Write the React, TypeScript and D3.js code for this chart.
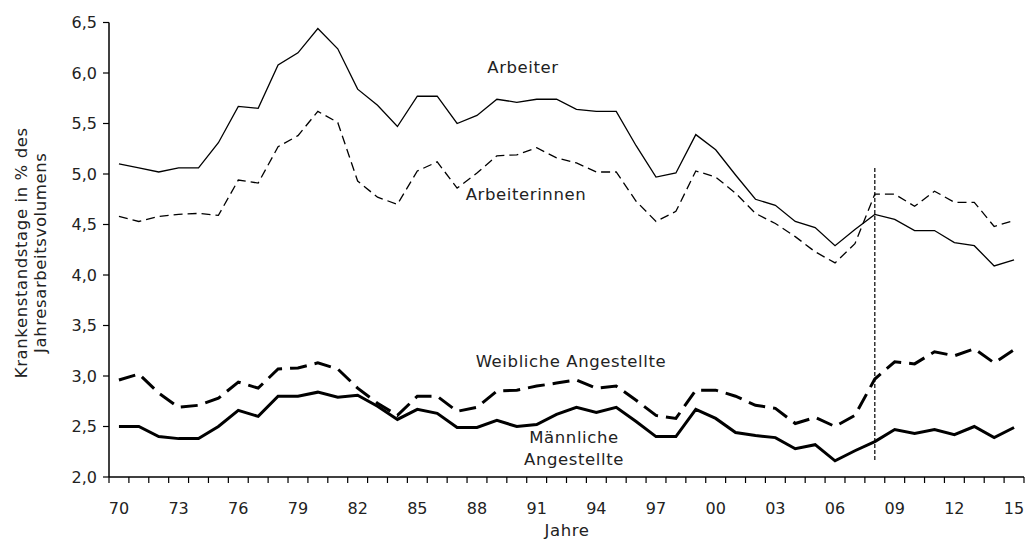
import React from "react";
import * as d3 from "d3";

const years: number[] = d3.range(1970, 2016);
const tickYears = [1970, 1973, 1976, 1979, 1982, 1985, 1988, 1991, 1994, 1997, 2000, 2003, 2006, 2009, 2012, 2015];
const yTicks = [2.0, 2.5, 3.0, 3.5, 4.0, 4.5, 5.0, 5.5, 6.0, 6.5];

const arbeiter = [5.10, 5.06, 5.02, 5.06, 5.06, 5.31, 5.67, 5.65, 6.08, 6.20,
  6.44, 6.24, 5.84, 5.68, 5.47, 5.77, 5.77, 5.50, 5.58, 5.74,
  5.71, 5.74, 5.74, 5.64, 5.62, 5.62, 5.28, 4.97, 5.01, 5.39,
  5.24, 4.99, 4.75, 4.69, 4.53, 4.47, 4.29, 4.45, 4.60, 4.55,
  4.44, 4.44, 4.32, 4.29, 4.09, 4.15];
const arbeiterinnen = [4.58, 4.53, 4.58, 4.60, 4.61, 4.59, 4.94, 4.91, 5.27, 5.38,
  5.62, 5.51, 4.93, 4.77, 4.70, 5.03, 5.12, 4.86, 5.01, 5.18,
  5.19, 5.26, 5.16, 5.11, 5.02, 5.02, 4.73, 4.53, 4.63, 5.03,
  4.97, 4.81, 4.61, 4.51, 4.38, 4.23, 4.12, 4.31, 4.80, 4.80,
  4.68, 4.83, 4.72, 4.72, 4.48, 4.54];
const weiblicheAngestellte = [2.96, 3.02, 2.83, 2.69, 2.71, 2.78, 2.94, 2.88, 3.07, 3.08,
  3.13, 3.07, 2.88, 2.73, 2.61, 2.80, 2.80, 2.65, 2.69, 2.85,
  2.86, 2.90, 2.93, 2.96, 2.88, 2.90, 2.76, 2.61, 2.58, 2.86,
  2.86, 2.80, 2.71, 2.68, 2.53, 2.59, 2.50, 2.61, 2.97, 3.14,
  3.12, 3.24, 3.20, 3.27, 3.13, 3.26];
const maennlicheAngestellte = [2.50, 2.50, 2.40, 2.38, 2.38, 2.50, 2.66, 2.60, 2.80, 2.80,
  2.84, 2.79, 2.81, 2.70, 2.57, 2.67, 2.63, 2.49, 2.49, 2.56,
  2.50, 2.52, 2.62, 2.69, 2.64, 2.69, 2.55, 2.40, 2.40, 2.67,
  2.58, 2.44, 2.41, 2.39, 2.28, 2.32, 2.16, 2.26, 2.35, 2.47,
  2.43, 2.47, 2.42, 2.50, 2.39, 2.49];

const breakYear = 2008;
const breakRange = [2.15, 5.06];

const FONT = "'DejaVu Sans', sans-serif";

export default function App() {
  const W = 1027, H = 541;
  const left = 109, right = 1024, top = 22.5, bottom = 477;
  const x = d3.scaleBand<number>().domain(years).range([left, right]).padding(0);
  const xc = (yr: number) => (x(yr) as number) + x.bandwidth() / 2;
  const y = d3.scaleLinear().domain([2.0, 6.5]).range([bottom, top]);
  const line = d3.line<number>().x((_, i) => xc(years[i])).y((v) => y(v));
  const fmt = (v: number) => d3.format(".1f")(v).replace(".", ",");

  const series = [
    { data: arbeiter, w: 1.3, dash: undefined },
    { data: arbeiterinnen, w: 1.3, dash: "9,5" },
    { data: weiblicheAngestellte, w: 3, dash: "17,8" },
    { data: maennlicheAngestellte, w: 3, dash: undefined },
  ];

  const boundaries = years.map((yr) => x(yr) as number).concat([right]);
  const lab = { fontSize: 16.5, fill: "#222", letterSpacing: 0.6 } as const;

  return (
    <svg width={W} height={H} style={{ position: "absolute", left: 0, top: 0, background: "#fff" }} fontFamily={FONT}>
      <line x1={left} x2={left} y1={top} y2={bottom} stroke="#000" strokeWidth={1.5} />
      <line x1={left} x2={right} y1={bottom} y2={bottom} stroke="#000" strokeWidth={1.5} />
      {yTicks.map((t) => (
        <g key={t}>
          <line x1={left - 6} x2={left} y1={y(t)} y2={y(t)} stroke="#000" strokeWidth={1.2} />
          <text x={left - 12} y={y(t)} dy="0.36em" textAnchor="end" fontSize={16} fill="#222">{fmt(t)}</text>
        </g>
      ))}
      {boundaries.map((b, i) => (
        <line key={i} x1={b} x2={b} y1={bottom} y2={bottom + 6} stroke="#000" strokeWidth={1.2} />
      ))}
      {tickYears.map((yr) => (
        <text key={yr} x={xc(yr)} y={bottom + 37} textAnchor="middle" fontSize={16} fill="#222">
          {String(yr % 100).padStart(2, "0")}
        </text>
      ))}
      <text x={567} y={536} textAnchor="middle" {...lab}>Jahre</text>
      <g transform={`translate(27, ${(top + bottom) / 2 + 3}) rotate(-90)`}>
        <text x={0} y={0} textAnchor="middle" {...lab}>Krankenstandstage in % des</text>
        <text x={0} y={19} textAnchor="middle" {...lab}>Jahresarbeitsvolumens</text>
      </g>
      {series.map((s, i) => (
        <path key={i} d={line(s.data) as string} fill="none" stroke="#000" strokeWidth={s.w}
          strokeDasharray={s.dash} strokeLinejoin="miter" />
      ))}
      <line x1={xc(breakYear)} x2={xc(breakYear)} y1={y(breakRange[1])} y2={y(breakRange[0])}
        stroke="#000" strokeWidth={1.2} strokeDasharray="4,2" />
      <text x={523} y={73} textAnchor="middle" {...lab}>Arbeiter</text>
      <text x={526} y={200} textAnchor="middle" {...lab}>Arbeiterinnen</text>
      <text x={571} y={367} textAnchor="middle" {...lab}>Weibliche Angestellte</text>
      <text x={574} y={443} textAnchor="middle" {...lab}>Männliche</text>
      <text x={574} y={465} textAnchor="middle" {...lab}>Angestellte</text>
    </svg>
  );
}
